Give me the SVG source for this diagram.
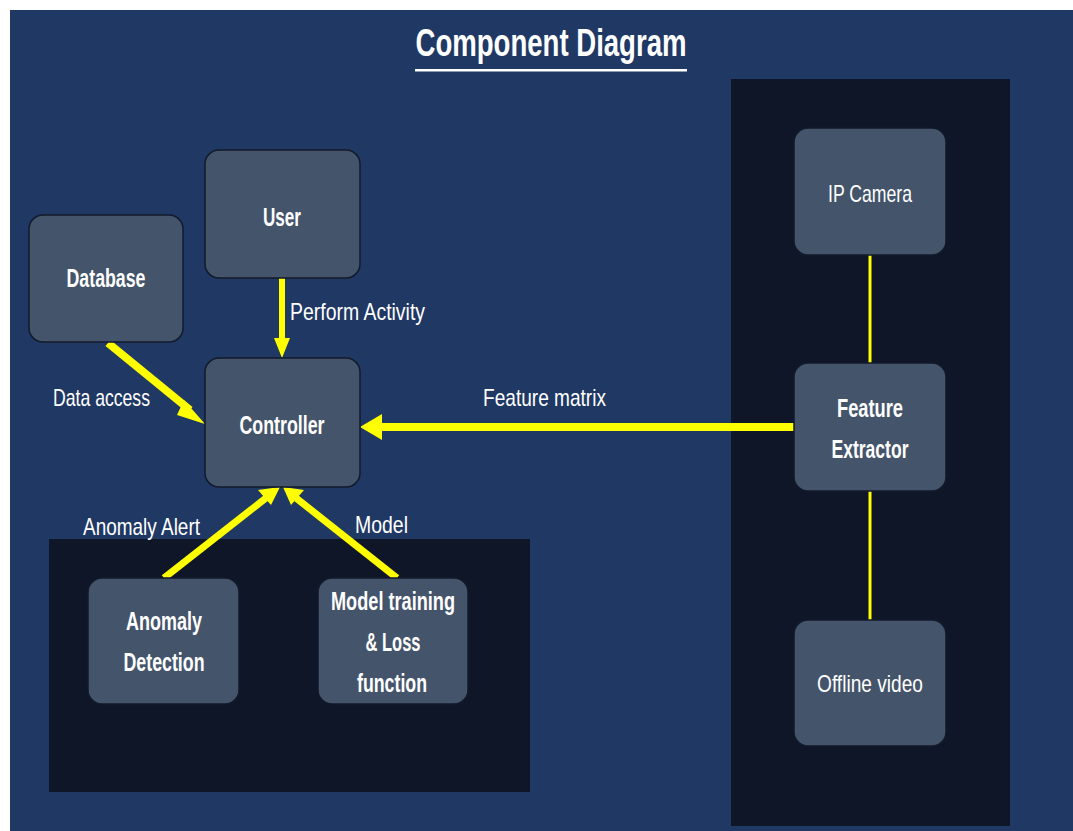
<svg xmlns="http://www.w3.org/2000/svg" width="1073" height="831" viewBox="0 0 1073 831">
  <style>
    .bg { fill: #203864; }
    .panel { fill: #0e1628; }
    .node { fill: #44546a; stroke: #121a2b; stroke-width: 1.5; }
    .t { font-family: "Liberation Sans", Arial, sans-serif; fill: #ffffff; text-anchor: middle; lengthAdjust: spacingAndGlyphs; }
    .b { font-weight: bold; font-size: 25px; }
    .n { font-size: 24px; }
    .lbl { font-family: "Liberation Sans", Arial, sans-serif; fill: #ffffff; font-size: 24px; }
    .wire { stroke: #ffff00; fill: none; }
    .head { fill: #ffff00; }
  </style>

  <!-- slide background -->
  <rect x="0" y="0" width="1073" height="831" fill="#ffffff"/>
  <rect class="bg" x="10" y="10" width="1063" height="821"/>

  <!-- title -->
  <g id="title">
    <text class="t" x="551" y="56" font-size="38" font-weight="bold" textLength="271" lengthAdjust="spacingAndGlyphs">Component Diagram</text>
    <rect x="415" y="69" width="272" height="2.5" fill="#ffffff"/>
  </g>

  <!-- container panels -->
  <rect id="panel-processing" class="panel" x="49" y="539" width="481" height="253"/>
  <rect id="panel-input" class="panel" x="731" y="79" width="279" height="747"/>

  <!-- connectors -->
  <g id="connectors">
    <!-- User -> Controller -->
    <line class="wire" x1="282" y1="278" x2="282" y2="340" stroke-width="6"/>
    <polygon class="head" points="274,338 290,338 282,358"/>

    <!-- Database -> Controller -->
    <line class="wire" x1="108" y1="343" x2="190" y2="410" stroke-width="8"/>
    <polygon class="head" points="184,400 205,424 177,415"/>

    <!-- Feature Extractor -> Controller -->
    <line class="wire" x1="794" y1="427" x2="378" y2="427" stroke-width="8"/>
    <polygon class="head" points="382,414 382,440 360,427"/>

    <!-- Anomaly Detection -> Controller -->
    <line class="wire" x1="164" y1="578" x2="266" y2="498" stroke-width="7"/>
    <polygon class="head" points="258,490 271,505 280,487"/>

    <!-- Model training -> Controller -->
    <line class="wire" x1="397" y1="578" x2="296" y2="498" stroke-width="7"/>
    <polygon class="head" points="291,505 304,490 283,487"/>

    <!-- IP Camera / Offline video to Feature Extractor -->
    <line class="wire" x1="870" y1="255" x2="870" y2="363" stroke-width="3"/>
    <line class="wire" x1="870" y1="491" x2="870" y2="620" stroke-width="3"/>
  </g>

  <!-- connector labels -->
  <g id="labels">
    <text class="lbl" x="290" y="320" textLength="135" lengthAdjust="spacingAndGlyphs">Perform Activity</text>
    <text class="lbl" x="53" y="406" textLength="97" lengthAdjust="spacingAndGlyphs">Data access</text>
    <text class="lbl" x="483" y="406" textLength="123" lengthAdjust="spacingAndGlyphs">Feature matrix</text>
    <text class="lbl" x="83" y="535" textLength="117" lengthAdjust="spacingAndGlyphs">Anomaly Alert</text>
    <text class="lbl" x="355" y="533" textLength="53" lengthAdjust="spacingAndGlyphs">Model</text>
  </g>

  <!-- components -->
  <g id="user">
    <rect class="node" x="205" y="150" width="155" height="128" rx="14"/>
    <text class="t b" x="282" y="226" textLength="38" lengthAdjust="spacingAndGlyphs">User</text>
  </g>

  <g id="database">
    <rect class="node" x="29" y="215" width="154" height="127" rx="14"/>
    <text class="t b" x="106" y="287" textLength="79" lengthAdjust="spacingAndGlyphs">Database</text>
  </g>

  <g id="controller">
    <rect class="node" x="205" y="358" width="155" height="129" rx="14"/>
    <text class="t b" x="282" y="434" textLength="85" lengthAdjust="spacingAndGlyphs">Controller</text>
  </g>

  <g id="anomaly-detection">
    <rect class="node" x="88" y="578" width="151" height="126" rx="14"/>
    <text class="t b" x="164" y="630" textLength="76" lengthAdjust="spacingAndGlyphs">Anomaly</text>
    <text class="t b" x="164" y="671" textLength="81" lengthAdjust="spacingAndGlyphs">Detection</text>
  </g>

  <g id="model-training">
    <rect class="node" x="318" y="578" width="150" height="126" rx="14"/>
    <text class="t b" x="393" y="610" textLength="124" lengthAdjust="spacingAndGlyphs">Model training</text>
    <text class="t b" x="393" y="651" textLength="55" lengthAdjust="spacingAndGlyphs">&amp; Loss</text>
    <text class="t b" x="392" y="692" textLength="70" lengthAdjust="spacingAndGlyphs">function</text>
  </g>

  <g id="ip-camera">
    <rect class="node" x="794" y="128" width="152" height="127" rx="14"/>
    <text class="t n" x="870" y="202" textLength="84" lengthAdjust="spacingAndGlyphs">IP Camera</text>
  </g>

  <g id="feature-extractor">
    <rect class="node" x="794" y="363" width="152" height="128" rx="14"/>
    <text class="t b" x="870" y="417" textLength="66" lengthAdjust="spacingAndGlyphs">Feature</text>
    <text class="t b" x="870" y="458" textLength="77" lengthAdjust="spacingAndGlyphs">Extractor</text>
  </g>

  <g id="offline-video">
    <rect class="node" x="794" y="620" width="152" height="126" rx="14"/>
    <text class="t n" x="870" y="692" textLength="106" lengthAdjust="spacingAndGlyphs">Offline video</text>
  </g>
</svg>
